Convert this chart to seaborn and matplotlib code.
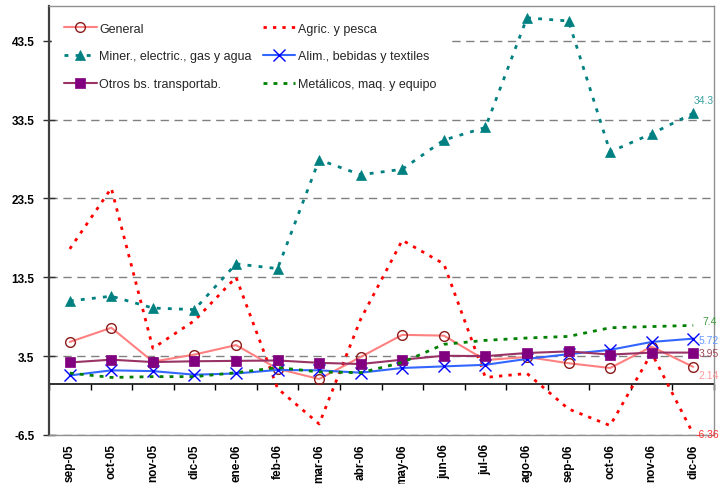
import numpy as np
import pandas as pd
import matplotlib
matplotlib.use("Agg")
import matplotlib.pyplot as plt
import seaborn as sns

# Monthly year-on-year variation by industrial group (%)
months = ["sep-05", "oct-05", "nov-05", "dic-05", "ene-06", "feb-06", "mar-06", "abr-06",
          "may-06", "jun-06", "jul-06", "ago-06", "sep-06", "oct-06", "nov-06", "dic-06"]

general = [5.3, 7.1, 2.8, 3.7, 4.9, 1.9, 0.6, 3.4, 6.2, 6.1, 3.0, 3.4, 2.6, 2.0, 4.7, 2.14]
agric = [17.1, 24.8, 4.5, 8.0, 13.5, -0.6, -5.1, 8.2, 18.2, 15.2, 0.8, 1.3, -3.2, -5.3, 3.9, -6.36]
miner = [10.5, 11.1, 9.6, 9.4, 15.2, 14.6, 28.4, 26.5, 27.2, 30.9, 32.5, 46.4, 46.0, 29.4, 31.7, 34.3]
alim = [1.05, 1.7, 1.6, 1.15, 1.3, 1.75, 1.7, 1.4, 2.0, 2.2, 2.4, 3.15, 3.75, 4.3, 5.3, 5.72]
otros = [2.7, 3.05, 2.75, 2.85, 2.9, 2.95, 2.65, 2.5, 3.05, 3.55, 3.5, 3.9, 4.1, 3.7, 3.95, 3.95]
metal = [1.35, 0.8, 0.9, 0.9, 1.4, 2.05, 1.5, 1.4, 2.7, 5.0, 5.5, 5.8, 6.0, 7.1, 7.25, 7.4]

y_ticks = [-6.5, 3.5, 13.5, 23.5, 33.5, 43.5]

sns.set_theme(style="white")
plt.rcParams["font.family"] = ["Liberation Sans", "DejaVu Sans"]

pos = np.arange(len(months))

fig = plt.figure(figsize=(7.2, 4.85), dpi=100)
ax = fig.add_axes([49 / 720, 1 - 436 / 485, 665 / 720, 429 / 485])

series = [
    dict(name="General", data=general, color="#FF8080", ls="-", lw=1.5, marker="o",
         ms=7, mfc="none", mec="#8B1A1A", mew=1.0),
    dict(name="Agric. y pesca", data=agric, color="#FF0000", ls=(0, (1.2, 2.2)), lw=2.0,
         marker=None),
    dict(name="Miner., electric., gas y agua", data=miner, color="#008080", ls=(0, (1.4, 2.6)),
         lw=2.0, marker="^", ms=7.5, mfc="#008080", mec="#008080", mew=0.5),
    dict(name="Alim., bebidas y textiles", data=alim, color="#3366FF", ls="-", lw=1.5,
         marker="x", ms=8, mfc="#0000FF", mec="#0000FF", mew=1.0),
    dict(name="Otros bs. transportab.", data=otros, color="#993366", ls="-", lw=1.5,
         marker="s", ms=7, mfc="#800080", mec="#800080", mew=0.5),
    dict(name="Metálicos, maq. y equipo", data=metal, color="#008000", ls=(0, (1.4, 2.2)),
         lw=2.0, marker=None),
]

handles = {}
for s in series:
    df = pd.DataFrame({"pos": pos, "valor": s["data"]})
    kws = dict(color=s["color"], linestyle=s["ls"], linewidth=s["lw"])
    if s["marker"]:
        kws.update(marker=s["marker"], markersize=s["ms"], markerfacecolor=s["mfc"],
                   markeredgecolor=s["mec"], markeredgewidth=s["mew"])
    sns.lineplot(data=df, x="pos", y="valor", ax=ax, label=s["name"], zorder=3, **kws)
    handles[s["name"]] = ax.lines[-1]

ax.set_xlim(-0.5, len(months) - 0.5)
ax.set_ylim(-6.5, 47.9)
ax.set_xlabel("")
ax.set_ylabel("")

# Horizontal dashed gridlines
ax.set_yticks(y_ticks)
ax.set_yticklabels([f"{v:.1f}" for v in y_ticks], fontsize=8.5, fontweight="bold")
ax.yaxis.grid(True, color="#808080", linestyle=(0, (6, 4)), linewidth=1.0)
ax.xaxis.grid(False)
ax.set_axisbelow(True)
ax.tick_params(axis="y", direction="inout", length=9, width=1.0, color="#303030",
               pad=6, left=True, labelcolor="black")

# Category labels under the plot area
ax.set_xticks(pos)
ax.set_xticklabels(months, rotation=90, fontsize=8.5, fontweight="bold", va="top")
ax.tick_params(axis="x", length=0, pad=6, labelcolor="black")

for side in ("top", "right", "bottom"):
    ax.spines[side].set_color("#909090")
    ax.spines[side].set_linewidth(1.0)
ax.spines["left"].set_color("#404040")
ax.spines["left"].set_linewidth(1.6)

# Category axis crossing at zero with boundary tick marks
zero_frac = (0 - ax.get_ylim()[0]) / (ax.get_ylim()[1] - ax.get_ylim()[0])
sec = ax.secondary_xaxis(zero_frac)
sec.set_xticks(np.arange(-0.5, len(months), 1.0))
sec.tick_params(axis="x", direction="out", length=4, width=1.0, color="black",
                labelbottom=False, labeltop=False)
sec.spines["bottom"].set_color("#202020")
sec.spines["bottom"].set_linewidth(1.3)

# Legend in two columns, rows paired as in the series order
order = ["General", "Miner., electric., gas y agua", "Otros bs. transportab.",
         "Agric. y pesca", "Alim., bebidas y textiles", "Metálicos, maq. y equipo"]
leg = ax.legend([handles[n] for n in order], order, ncol=2, loc="upper left",
                bbox_to_anchor=(0.004, 0.99), frameon=True, fontsize=9,
                handlelength=2.6, handletextpad=0.2, columnspacing=0.9,
                labelspacing=1.25, borderpad=1.0, borderaxespad=0.0, numpoints=1)
leg.get_frame().set_facecolor("white")
leg.get_frame().set_edgecolor("white")
leg.get_frame().set_alpha(1.0)
leg.get_frame().set_boxstyle("square", pad=0)
leg.set_zorder(2)

# Values of the last month next to each series
last = len(months) - 1
end_labels = [
    (miner[last], "#3AA3A3", (0, 13)),
    (metal[last], "#3C9A3C", (9, 4)),
    (alim[last], "#6699FF", (5, -1)),
    (otros[last], "#A0485A", (5, 0)),
    (general[last], "#FF9999", (5, -8)),
    (agric[last], "#FF3333", (2, 0)),
]
for val, col, off in end_labels:
    txt = f"{val:g}"
    ax.annotate(txt, xy=(last, val), xytext=off, textcoords="offset pixels",
                ha="left", va="center", fontsize=7.5, color=col, annotation_clip=False,
                clip_on=False, zorder=5)

fig.savefig("out.png", dpi=100)
